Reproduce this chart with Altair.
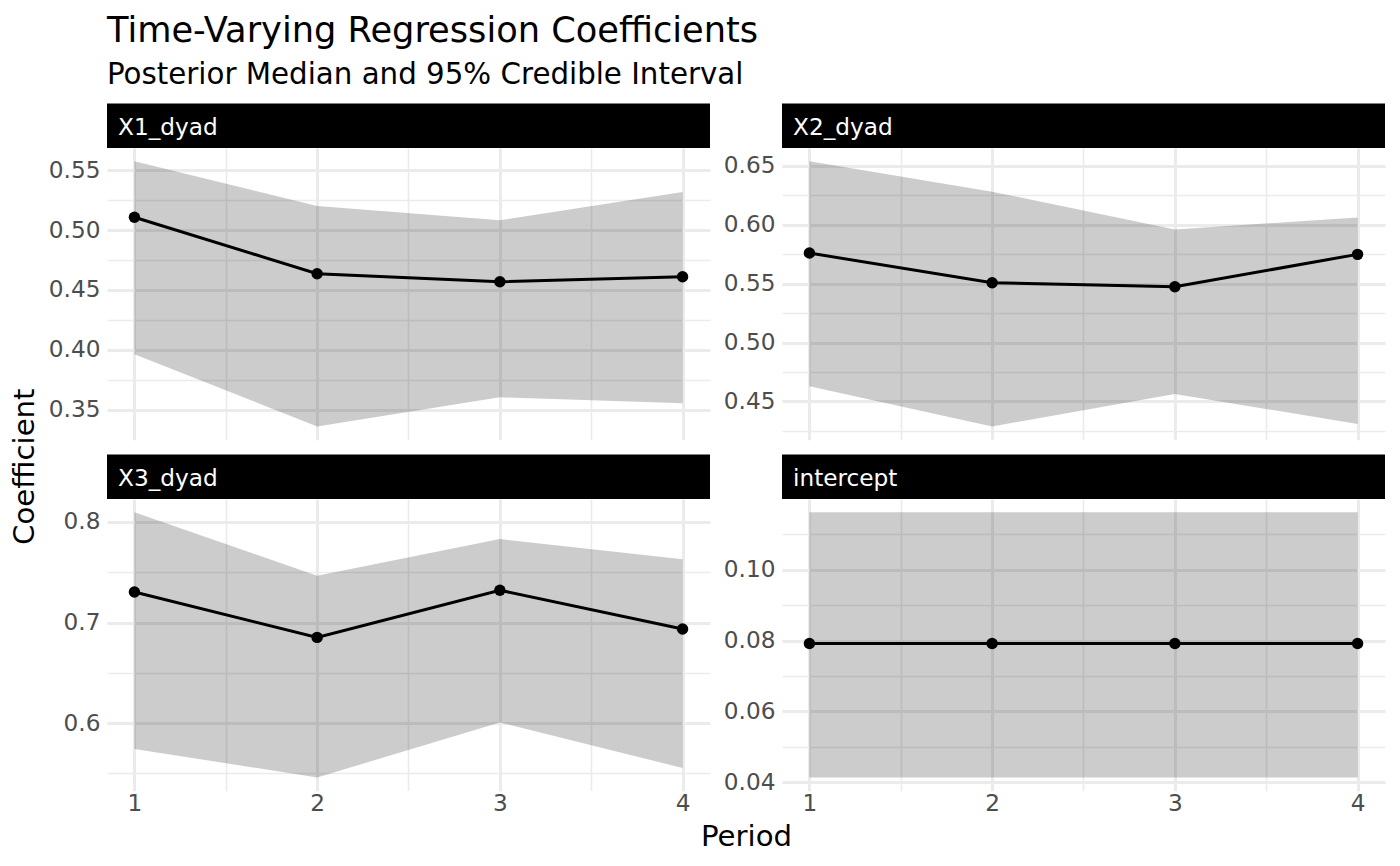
import altair as alt
import pandas as pd

# ---- data ----
terms = ["X1_dyad", "X2_dyad", "X3_dyad", "intercept"]
periods = [1, 2, 3, 4]

med_x1 = [0.5107, 0.4636, 0.4569, 0.4610]
lo_x1 = [0.3963, 0.3360, 0.3603, 0.3553]
hi_x1 = [0.5575, 0.5201, 0.5082, 0.5319]

med_x2 = [0.5760, 0.5508, 0.5474, 0.5749]
lo_x2 = [0.4628, 0.4287, 0.4563, 0.4308]
hi_x2 = [0.6540, 0.6282, 0.5961, 0.6063]

med_x3 = [0.7304, 0.6852, 0.7321, 0.6935]
lo_x3 = [0.5743, 0.5460, 0.6006, 0.5554]
hi_x3 = [0.8096, 0.7464, 0.7830, 0.7630]

med_int = [0.0792, 0.0792, 0.0792, 0.0792]
lo_int = [0.0414, 0.0414, 0.0414, 0.0414]
hi_int = [0.1162, 0.1162, 0.1162, 0.1162]

major_ticks = {
    "X1_dyad": [0.35, 0.40, 0.45, 0.50, 0.55],
    "X2_dyad": [0.45, 0.50, 0.55, 0.60, 0.65],
    "X3_dyad": [0.6, 0.7, 0.8],
    "intercept": [0.04, 0.06, 0.08, 0.10],
}
minor_ticks = {
    "X1_dyad": [0.375, 0.425, 0.475, 0.525],
    "X2_dyad": [0.425, 0.475, 0.525, 0.575, 0.625],
    "X3_dyad": [0.55, 0.65, 0.75],
    "intercept": [0.05, 0.07, 0.09, 0.11],
}
tick_format = {"X1_dyad": ".2f", "X2_dyad": ".2f", "X3_dyad": ".1f", "intercept": ".2f"}
x_major = [1, 2, 3, 4]
x_minor = [1.5, 2.5, 3.5]

series = {
    "X1_dyad": (med_x1, lo_x1, hi_x1),
    "X2_dyad": (med_x2, lo_x2, hi_x2),
    "X3_dyad": (med_x3, lo_x3, hi_x3),
    "intercept": (med_int, lo_int, hi_int),
}

# ---- styling ----
FONT = "DejaVu Sans"
W, H = 603, 291.7
STRIP_H = 44.5
GRID = "#EBEBEB"
LABEL_SIZE = 23.2
AXIS_TITLE_SIZE = 29.2

xscale = alt.Scale(domain=[0.85, 4.15], nice=False, zero=False)


def panel(term, col, row):
    med, lo, hi = series[term]
    df = pd.DataFrame({"period": periods, "med": med, "lo": lo, "hi": hi})
    rng = max(hi) - min(lo)
    yscale = alt.Scale(domain=[min(lo) - 0.05 * rng, max(hi) + 0.05 * rng],
                       nice=False, zero=False)
    bottom = row == 1

    minor_x_axis = alt.Axis(orient="top", values=x_minor, labels=False, ticks=False,
                            domain=False, grid=True, gridColor=GRID, gridWidth=1.6,
                            title=None)
    minor_y_axis = alt.Axis(orient="right", values=minor_ticks[term], labels=False,
                            ticks=False, domain=False, grid=True, gridColor=GRID,
                            gridWidth=1.6, title=None)

    xa = dict(orient="bottom", values=x_major, grid=True, gridColor=GRID, gridWidth=3,
              ticks=False, domain=False, labels=bottom, labelFont=FONT,
              labelFontSize=LABEL_SIZE, labelColor="#4D4D4D", labelPadding=1.5,
              format="d", title=None)
    if bottom and col == 0:
        xa.update(title="Period", titleFont=FONT, titleFontSize=AXIS_TITLE_SIZE,
                  titleFontWeight="normal", titleColor="black",
                  titleX=639, titleY=54.5, titleAlign="center",
                  titleBaseline="alphabetic")
    major_x_axis = alt.Axis(**xa)

    ya = dict(orient="left", values=major_ticks[term], grid=True, gridColor=GRID,
              gridWidth=3, ticks=False, domain=False, labelFont=FONT,
              labelFontSize=LABEL_SIZE, labelColor="#4D4D4D", labelPadding=7,
              format=tick_format[term], title=None)
    if (not bottom) and col == 0:
        ya.update(title="Coefficient", titleFont=FONT, titleFontSize=AXIS_TITLE_SIZE,
                  titleFontWeight="normal", titleColor="black",
                  titleX=-73.5, titleY=318.2, titleAlign="center", titleAngle=270,
                  titleBaseline="alphabetic")
    major_y_axis = alt.Axis(**ya)

    base = alt.Chart(df)
    band = base.mark_area(color="black", opacity=0.2).encode(
        x=alt.X("period:Q", scale=xscale, axis=minor_x_axis),
        y=alt.Y("lo:Q", scale=yscale, axis=minor_y_axis),
        y2="hi:Q",
    )
    line = base.mark_line(color="black", strokeWidth=3).encode(
        x=alt.X("period:Q", scale=xscale, axis=major_x_axis),
        y=alt.Y("med:Q", scale=yscale, axis=major_y_axis),
    )
    pts = base.mark_circle(color="black", opacity=1, size=130).encode(
        x=alt.X("period:Q", scale=xscale, axis=None),
        y=alt.Y("med:Q", scale=yscale, axis=None),
    )

    strip_df = pd.DataFrame({"term": [term]})
    strip_bg = alt.Chart(strip_df).mark_rect(color="black").encode(
        x=alt.value(0), x2=alt.value(W), y=alt.value(-STRIP_H), y2=alt.value(0)
    )
    strip_txt = alt.Chart(strip_df).mark_text(
        color="white", font=FONT, fontSize=LABEL_SIZE, align="left",
        baseline="alphabetic"
    ).encode(text="term:N", x=alt.value(11), y=alt.value(-13.3))

    return alt.layer(band, line, pts, strip_bg, strip_txt).resolve_axis(
        x="independent", y="independent"
    ).properties(width=W, height=H)


cells = [panel(t, i % 2, i // 2) for i, t in enumerate(terms)]

chart = alt.concat(
    *cells, columns=2, spacing={"row": 59, "column": 72}, bounds="flush"
).properties(
    title=alt.Title(
        "Time-Varying Regression Coefficients",
        subtitle="Posterior Median and 95% Credible Interval",
        anchor="start", frame="group", font=FONT, fontSize=35.2,
        fontWeight="normal", color="black", subtitleFont=FONT,
        subtitleFontSize=29.3, subtitleColor="black", subtitlePadding=12,
        offset=13,
    ),
    padding={"left": 2, "top": 6, "right": 5, "bottom": 5},
    background="white",
).configure_view(stroke=None, strokeWidth=0)

chart.save("out.html", embed_options={"renderer": "svg", "actions": False})
